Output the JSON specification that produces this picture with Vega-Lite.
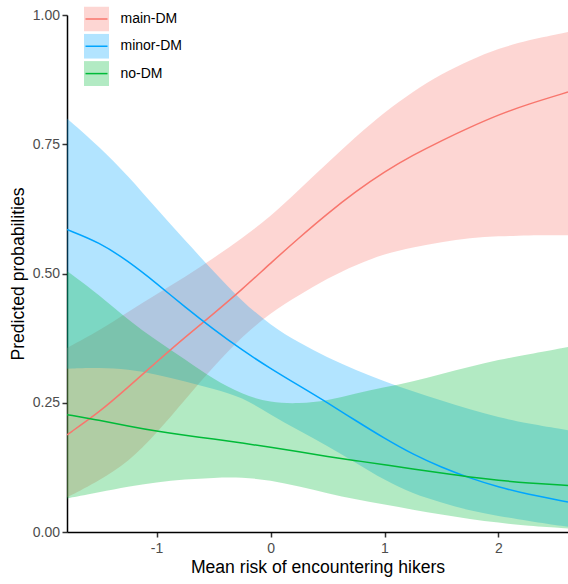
{
  "$schema": "https://vega.github.io/schema/vega-lite/v6.json",
  "width": 501,
  "height": 517,
  "autosize": "none",
  "padding": {"left": 67, "top": 15, "right": 0, "bottom": 52},
  "config": {
    "view": {"stroke": null},
    "font": "Liberation Sans",
    "axis": {
      "grid": false,
      "domainColor": "#000000",
      "domainWidth": 1.5,
      "tickColor": "#333333",
      "tickWidth": 1.5,
      "tickSize": 5,
      "labelFont": "Liberation Sans",
      "labelFontSize": 14,
      "labelColor": "#4D4D4D",
      "titleFont": "Liberation Sans",
      "titleFontSize": 17.6,
      "titleFontWeight": "normal",
      "titleColor": "#000000"
    },
    "legend": {"labelFont": "Liberation Sans"}
  },
  "datasets": {
    "bands": [
      {"x": -1.786, "model": "main-DM", "lo": 0.067, "hi": 0.356},
      {"x": -1.5, "model": "main-DM", "lo": 0.100, "hi": 0.390},
      {"x": -1.25, "model": "main-DM", "lo": 0.135, "hi": 0.426},
      {"x": -1, "model": "main-DM", "lo": 0.191, "hi": 0.460},
      {"x": -0.75, "model": "main-DM", "lo": 0.256, "hi": 0.493},
      {"x": -0.5, "model": "main-DM", "lo": 0.320, "hi": 0.530},
      {"x": -0.25, "model": "main-DM", "lo": 0.378, "hi": 0.568},
      {"x": 0, "model": "main-DM", "lo": 0.424, "hi": 0.610},
      {"x": 0.25, "model": "main-DM", "lo": 0.458, "hi": 0.662},
      {"x": 0.5, "model": "main-DM", "lo": 0.491, "hi": 0.714},
      {"x": 0.75, "model": "main-DM", "lo": 0.517, "hi": 0.765},
      {"x": 1, "model": "main-DM", "lo": 0.538, "hi": 0.812},
      {"x": 1.25, "model": "main-DM", "lo": 0.551, "hi": 0.852},
      {"x": 1.5, "model": "main-DM", "lo": 0.561, "hi": 0.886},
      {"x": 1.75, "model": "main-DM", "lo": 0.569, "hi": 0.913},
      {"x": 2, "model": "main-DM", "lo": 0.572, "hi": 0.935},
      {"x": 2.25, "model": "main-DM", "lo": 0.574, "hi": 0.951},
      {"x": 2.61, "model": "main-DM", "lo": 0.574, "hi": 0.967},
      {"x": -1.786, "model": "minor-DM", "lo": 0.316, "hi": 0.800},
      {"x": -1.5, "model": "minor-DM", "lo": 0.318, "hi": 0.745},
      {"x": -1.25, "model": "minor-DM", "lo": 0.315, "hi": 0.689},
      {"x": -1, "model": "minor-DM", "lo": 0.305, "hi": 0.625},
      {"x": -0.75, "model": "minor-DM", "lo": 0.291, "hi": 0.564},
      {"x": -0.5, "model": "minor-DM", "lo": 0.277, "hi": 0.504},
      {"x": -0.25, "model": "minor-DM", "lo": 0.261, "hi": 0.446},
      {"x": 0, "model": "minor-DM", "lo": 0.227, "hi": 0.400},
      {"x": 0.25, "model": "minor-DM", "lo": 0.196, "hi": 0.366},
      {"x": 0.5, "model": "minor-DM", "lo": 0.166, "hi": 0.337},
      {"x": 0.75, "model": "minor-DM", "lo": 0.134, "hi": 0.313},
      {"x": 1, "model": "minor-DM", "lo": 0.100, "hi": 0.291},
      {"x": 1.25, "model": "minor-DM", "lo": 0.074, "hi": 0.272},
      {"x": 1.5, "model": "minor-DM", "lo": 0.057, "hi": 0.254},
      {"x": 1.75, "model": "minor-DM", "lo": 0.041, "hi": 0.237},
      {"x": 2, "model": "minor-DM", "lo": 0.031, "hi": 0.222},
      {"x": 2.25, "model": "minor-DM", "lo": 0.022, "hi": 0.210},
      {"x": 2.61, "model": "minor-DM", "lo": 0.010, "hi": 0.197},
      {"x": -1.786, "model": "no-DM", "lo": 0.065, "hi": 0.505},
      {"x": -1.5, "model": "no-DM", "lo": 0.077, "hi": 0.458},
      {"x": -1.25, "model": "no-DM", "lo": 0.088, "hi": 0.410},
      {"x": -1, "model": "no-DM", "lo": 0.096, "hi": 0.370},
      {"x": -0.75, "model": "no-DM", "lo": 0.102, "hi": 0.334},
      {"x": -0.5, "model": "no-DM", "lo": 0.105, "hi": 0.295},
      {"x": -0.25, "model": "no-DM", "lo": 0.106, "hi": 0.266},
      {"x": 0, "model": "no-DM", "lo": 0.100, "hi": 0.250},
      {"x": 0.25, "model": "no-DM", "lo": 0.088, "hi": 0.248},
      {"x": 0.5, "model": "no-DM", "lo": 0.075, "hi": 0.254},
      {"x": 0.75, "model": "no-DM", "lo": 0.063, "hi": 0.268},
      {"x": 1, "model": "no-DM", "lo": 0.053, "hi": 0.280},
      {"x": 1.25, "model": "no-DM", "lo": 0.043, "hi": 0.291},
      {"x": 1.5, "model": "no-DM", "lo": 0.034, "hi": 0.306},
      {"x": 1.75, "model": "no-DM", "lo": 0.025, "hi": 0.320},
      {"x": 2, "model": "no-DM", "lo": 0.018, "hi": 0.333},
      {"x": 2.25, "model": "no-DM", "lo": 0.012, "hi": 0.343},
      {"x": 2.61, "model": "no-DM", "lo": 0.007, "hi": 0.358}
    ],
    "lines": [
      {"x": -1.786, "model": "main-DM", "p": 0.188},
      {"x": -1.5, "model": "main-DM", "p": 0.232},
      {"x": -1.25, "model": "main-DM", "p": 0.280},
      {"x": -1, "model": "main-DM", "p": 0.329},
      {"x": -0.75, "model": "main-DM", "p": 0.377},
      {"x": -0.5, "model": "main-DM", "p": 0.422},
      {"x": -0.25, "model": "main-DM", "p": 0.469},
      {"x": 0, "model": "main-DM", "p": 0.520},
      {"x": 0.25, "model": "main-DM", "p": 0.569},
      {"x": 0.5, "model": "main-DM", "p": 0.616},
      {"x": 0.75, "model": "main-DM", "p": 0.659},
      {"x": 1, "model": "main-DM", "p": 0.697},
      {"x": 1.25, "model": "main-DM", "p": 0.729},
      {"x": 1.5, "model": "main-DM", "p": 0.757},
      {"x": 1.75, "model": "main-DM", "p": 0.783},
      {"x": 2, "model": "main-DM", "p": 0.807},
      {"x": 2.25, "model": "main-DM", "p": 0.827},
      {"x": 2.61, "model": "main-DM", "p": 0.851},
      {"x": -1.786, "model": "minor-DM", "p": 0.585},
      {"x": -1.5, "model": "minor-DM", "p": 0.560},
      {"x": -1.25, "model": "minor-DM", "p": 0.524},
      {"x": -1, "model": "minor-DM", "p": 0.481},
      {"x": -0.75, "model": "minor-DM", "p": 0.435},
      {"x": -0.5, "model": "minor-DM", "p": 0.392},
      {"x": -0.25, "model": "minor-DM", "p": 0.352},
      {"x": 0, "model": "minor-DM", "p": 0.316},
      {"x": 0.25, "model": "minor-DM", "p": 0.283},
      {"x": 0.5, "model": "minor-DM", "p": 0.250},
      {"x": 0.75, "model": "minor-DM", "p": 0.215},
      {"x": 1, "model": "minor-DM", "p": 0.181},
      {"x": 1.25, "model": "minor-DM", "p": 0.150},
      {"x": 1.5, "model": "minor-DM", "p": 0.125},
      {"x": 1.75, "model": "minor-DM", "p": 0.104},
      {"x": 2, "model": "minor-DM", "p": 0.087},
      {"x": 2.25, "model": "minor-DM", "p": 0.073},
      {"x": 2.61, "model": "minor-DM", "p": 0.058},
      {"x": -1.786, "model": "no-DM", "p": 0.227},
      {"x": -1.5, "model": "no-DM", "p": 0.216},
      {"x": -1.25, "model": "no-DM", "p": 0.205},
      {"x": -1, "model": "no-DM", "p": 0.195},
      {"x": -0.75, "model": "no-DM", "p": 0.187},
      {"x": -0.5, "model": "no-DM", "p": 0.180},
      {"x": -0.25, "model": "no-DM", "p": 0.172},
      {"x": 0, "model": "no-DM", "p": 0.164},
      {"x": 0.25, "model": "no-DM", "p": 0.155},
      {"x": 0.5, "model": "no-DM", "p": 0.146},
      {"x": 0.75, "model": "no-DM", "p": 0.138},
      {"x": 1, "model": "no-DM", "p": 0.130},
      {"x": 1.25, "model": "no-DM", "p": 0.122},
      {"x": 1.5, "model": "no-DM", "p": 0.114},
      {"x": 1.75, "model": "no-DM", "p": 0.106},
      {"x": 2, "model": "no-DM", "p": 0.100},
      {"x": 2.25, "model": "no-DM", "p": 0.095},
      {"x": 2.61, "model": "no-DM", "p": 0.090}
    ]
  },
  "encoding": {
    "x": {
      "field": "x",
      "type": "quantitative",
      "scale": {"domain": [-1.786, 2.61], "nice": false, "zero": false},
      "axis": {
        "title": "Mean risk of encountering hikers",
        "values": [-1, 0, 1, 2],
        "labelExpr": "datum.value + ''",
        "labelPadding": 4,
        "titlePadding": 3
      }
    }
  },
  "layer": [
    {
      "data": {"name": "bands"},
      "mark": {"type": "area", "opacity": 0.3, "interpolate": "basis", "clip": true},
      "encoding": {
        "y": {
          "field": "lo",
          "type": "quantitative",
          "scale": {"domain": [0, 1], "nice": false},
          "axis": {
            "title": "Predicted probabilities",
            "values": [0, 0.25, 0.5, 0.75, 1],
            "format": ".2f",
            "labelPadding": 2.5,
            "titlePadding": 5
          }
        },
        "y2": {"field": "hi"},
        "fill": {
          "field": "model",
          "type": "nominal",
          "scale": {"range": ["#F8766D", "#00A5FF", "#00BA38"]},
          "legend": {
            "orient": "none",
            "legendX": 17,
            "legendY": -8.5,
            "title": null,
            "padding": 0,
            "symbolType": "square",
            "symbolSize": 625,
            "symbolOpacity": 0.3,
            "symbolStrokeWidth": 0,
            "clipHeight": 25,
            "rowPadding": 2.3,
            "labelExpr": "''"
          }
        }
      }
    },
    {
      "data": {"name": "lines"},
      "mark": {"type": "line", "strokeWidth": 1.5, "interpolate": "basis", "clip": true},
      "encoding": {
        "y": {
          "field": "p",
          "type": "quantitative",
          "scale": {"domain": [0, 1], "nice": false},
          "axis": {
            "title": "Predicted probabilities",
            "values": [0, 0.25, 0.5, 0.75, 1],
            "format": ".2f",
            "labelPadding": 2.5,
            "titlePadding": 5
          }
        },
        "stroke": {
          "field": "model",
          "type": "nominal",
          "scale": {"range": ["#F8766D", "#00A5FF", "#00BA38"]},
          "legend": {
            "orient": "none",
            "legendX": 17,
            "legendY": -8.5,
            "title": null,
            "padding": 0,
            "symbolType": "stroke",
            "symbolSize": 484,
            "symbolStrokeWidth": 1.5,
            "symbolOffset": 0.5,
            "clipHeight": 25,
            "rowPadding": 2.3,
            "labelFontSize": 14,
            "labelColor": "#000000",
            "labelOffset": 12
          }
        }
      }
    }
  ]
}
